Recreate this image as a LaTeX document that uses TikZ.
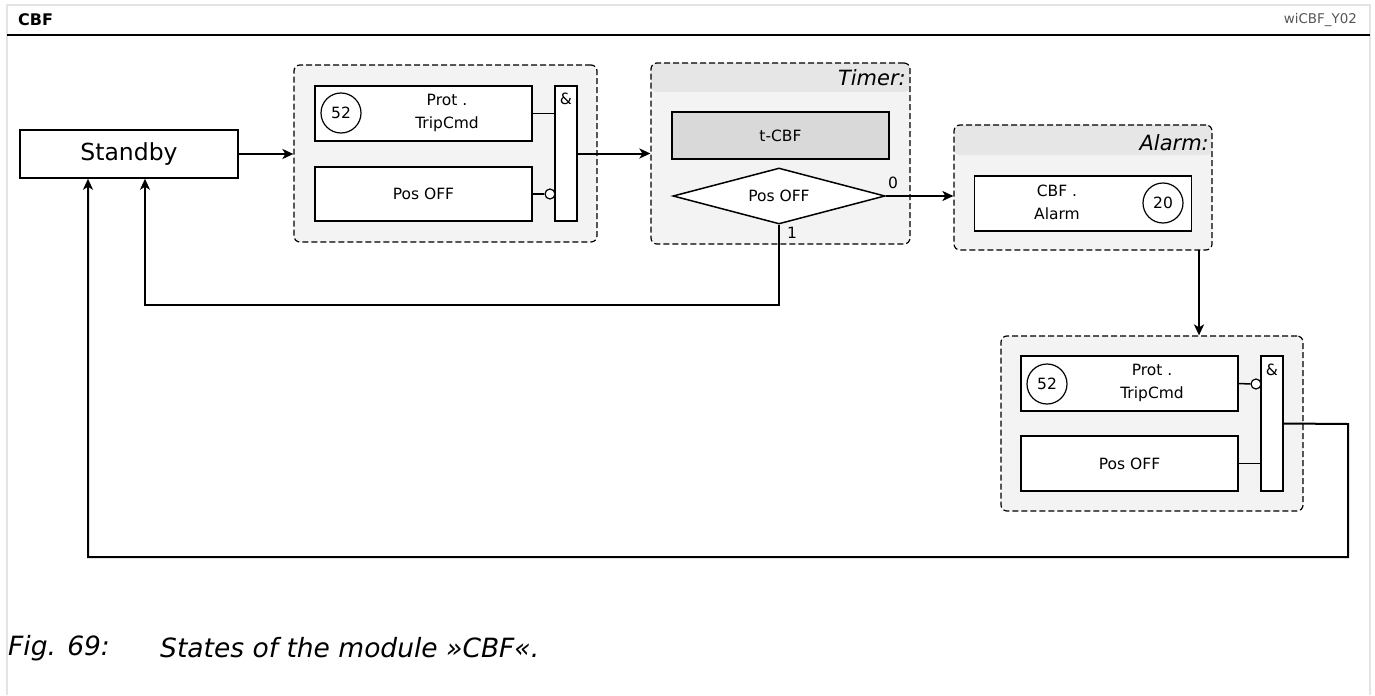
\documentclass[tikz,border=0pt]{standalone}
\usepackage{fontspec}
\setmainfont{DejaVu Sans}
\usetikzlibrary{arrows.meta,shapes.geometric}
\definecolor{grpfill}{HTML}{F3F3F3}
\definecolor{hdrfill}{HTML}{E6E6E6}
\definecolor{timfill}{HTML}{D9D9D9}
\definecolor{framegray}{HTML}{E4E4E4}
\definecolor{idgray}{HTML}{555555}
\newcommand\fsm{\fontsize{15.5bp}{23bp}\selectfont}
\newcommand\fbig{\fontsize{23.5bp}{28bp}\selectfont}
\newcommand\fhdr{\fontsize{21bp}{25bp}\selectfont\itshape}
\newcommand\fcap{\fontsize{26.5bp}{30bp}\selectfont\itshape}
\begin{document}
\begin{tikzpicture}[x=1bp,y=-1bp,
  box/.style={draw,line width=1.5bp,fill=white,minimum width=217bp,minimum height=55bp,inner sep=0pt,font=\fsm},
  grp/.style={draw,dash pattern=on 6bp off 3bp,line width=1.2bp,rounded corners=6bp,fill=grpfill,inner sep=0pt},
  hgrp/.style={grp,path picture={\fill[hdrfill] (path picture bounding box.north west) rectangle ([yshift=-#1]path picture bounding box.north east);}},
  gate/.style={draw,line width=1.5bp,fill=white,minimum width=22bp,minimum height=135bp,inner sep=0pt},
  numc/.style={draw,circle,line width=1.2bp,minimum size=40bp,inner sep=0pt,font=\fsm},
  negc/.style={draw,circle,line width=1.2bp,minimum size=10bp,inner sep=0pt,fill=white},
  txt/.style={inner sep=0pt,font=\fsm,align=center},
  ln/.style={line width=1.5bp},
  arr/.style={line width=2bp,-{Stealth[length=11bp,width=10bp,inset=3bp]}}
]
\useasboundingbox (0,0) rectangle (1375,695);
% frame
\draw[framegray,line width=2bp] (7,695) -- (7,5) -- (1370,5) -- (1370,695);
\draw[line width=2.5bp] (7,35) -- (1370,35);
\node[anchor=west,inner sep=0pt,font=\fontsize{16bp}{18bp}\selectfont\bfseries] (title) at (18,20) {CBF};
\node[anchor=east,inner sep=0pt,text=idgray,font=\fontsize{13.4bp}{15bp}\selectfont] (ident) at (1357,20) {wiCBF\_Y02};

% Standby
\node[draw,line width=1.5bp,fill=white,minimum width=218bp,minimum height=48bp,inner sep=0pt,font=\fbig] (SB) at (129,154) {Standby};

% Group 1
\node[grp,minimum width=303bp,minimum height=177bp] (G1) at (445.5,153.5) {};
\node[box] (P1) at (423.5,113.5) {};
\node[numc] (C1) at (341,113) {52};
\node[txt] (P1t) at (447,112.5) {Prot .\\TripCmd};
\node[box,minimum height=54bp] (Q1) at (423.5,194) {Pos OFF};
\node[gate] (A1) at (566,153.5) {};
\node[txt] (A1t) at (566,99) {\&};
\node[negc] (N1) at (550,194) {};
\draw[ln] (P1.east) -- (P1.east -| A1.west);
\draw[ln] (Q1.east) -- (N1.west);

% Timer group
\node[hgrp=29bp,minimum width=259bp,minimum height=181bp] (T) at (780.5,153.5) {};
\node[anchor=east,inner sep=0pt,font=\fhdr] (Tt) at (906,78) {Timer:};
\node[box,fill=timfill,minimum height=47bp] (TC) at (780.5,135.5) {t-CBF};
\node[draw,diamond,aspect=3.8,line width=1.5bp,fill=white,minimum width=212bp,minimum height=56bp,inner sep=0pt,font=\fsm] (D) at (779,196) {};
\node[txt] (Dt) at (779,196) {Pos OFF};
\node[txt] (D0) at (893,183) {0};
\node[txt] (D1) at (792,233) {1};

% Alarm group
\node[hgrp=30bp,minimum width=258bp,minimum height=125bp] (AL) at (1083,187.5) {};
\node[anchor=east,inner sep=0pt,font=\fhdr] (ALt) at (1209,143) {Alarm:};
\node[box] (AB) at (1083,203.5) {};
\node[txt] (ABt) at (1057,202.5) {CBF .\\Alarm};
\node[numc] (C3) at (1163,203) {20};

% Group 2
\node[grp,minimum width=302bp,minimum height=175bp] (G2) at (1152,423.5) {};
\node[box] (P2) at (1129.5,383.5) {};
\node[numc] (C2) at (1047,384) {52};
\node[txt] (P2t) at (1152,382.5) {Prot .\\TripCmd};
\node[box] (Q2) at (1129.5,463.5) {Pos OFF};
\node[gate] (A2) at (1272,423.5) {};
\node[txt] (A2t) at (1272,370) {\&};
\node[negc] (N2) at (1256,384) {};
\draw[ln] (P2.east) -- (N2.west);
\draw[ln] (Q2.east) -- (Q2.east -| A2.west);

% connectors
\draw[arr] (SB.east) -- (SB.east -| G1.west);
\draw[arr] (A1.east) -- (A1.east -| T.west);
\draw[arr] (D.east) -- (D.east -| AL.west);
\coordinate (k) at (1199,250);
\draw[arr] (k) -- (k |- G2.north);
\coordinate (r1) at (145,305);
\draw[arr] (D.south) |- (r1) -- (r1 |- SB.south);
\coordinate (r2a) at (1348,424);
\coordinate (r2) at (88,557);
\draw[arr] (A2.east) -- (r2a) |- (r2) -- (r2 |- SB.south);

% caption
\node[anchor=west,inner sep=0pt,font=\fcap] (cap1) at (8,648) {Fig. 69:};
\node[anchor=west,inner sep=0pt,font=\fcap] (cap2) at (160,648) {States of the module »CBF«.};
\end{tikzpicture}
\end{document}
